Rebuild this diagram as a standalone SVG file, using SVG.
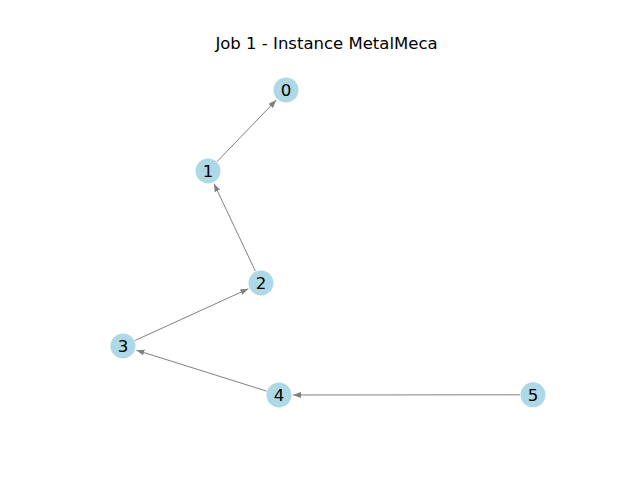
<svg xmlns="http://www.w3.org/2000/svg" width="640" height="480" viewBox="0 0 640 480">
<style>
text{font-family:"DejaVu Sans",sans-serif;fill:#000}
.lbl{font-size:16.67px;text-anchor:middle}
.title{font-size:16.5px;text-anchor:middle}
.node circle{fill:#add8e6}
.edges line{stroke:#808080;stroke-width:1}
</style>
<defs>
<marker id="ah" markerUnits="userSpaceOnUse" markerWidth="9" markerHeight="7" refX="8" refY="3" orient="auto" viewBox="0 0 9 7">
<path d="M0,0 L8,3 L0,6 z" fill="#808080"/>
</marker>
</defs>
<rect width="640" height="480" fill="#fff"/>
<text x="326.5" y="48.8" class="title">Job 1 - Instance MetalMeca</text>
<g id="edges" class="edges">
<line x1="217" y1="161.6" x2="276.3" y2="100.1" marker-end="url(#ah)"/>
<line x1="255.4" y1="271.2" x2="214" y2="183.7" marker-end="url(#ah)"/>
<line x1="134.8" y1="340.6" x2="248.3" y2="288.8" marker-end="url(#ah)"/>
<line x1="266.6" y1="391.1" x2="136.4" y2="350.2" marker-end="url(#ah)"/>
<line x1="520" y1="394.8" x2="293" y2="395" marker-end="url(#ah)"/>
</g>
<g id="node0" class="node"><circle cx="286" cy="90" r="12.5"/><text x="286" y="96" class="lbl">0</text></g>
<g id="node1" class="node"><circle cx="208" cy="171" r="12.5"/><text x="208" y="177" class="lbl">1</text></g>
<g id="node2" class="node"><circle cx="261" cy="283" r="12.5"/><text x="261" y="289" class="lbl">2</text></g>
<g id="node3" class="node"><circle cx="123" cy="346" r="12.5"/><text x="123" y="352" class="lbl">3</text></g>
<g id="node4" class="node"><circle cx="279" cy="395" r="12.5"/><text x="279" y="401" class="lbl">4</text></g>
<g id="node5" class="node"><circle cx="533" cy="394.8" r="12.5"/><text x="533" y="400.8" class="lbl">5</text></g>
</svg>
